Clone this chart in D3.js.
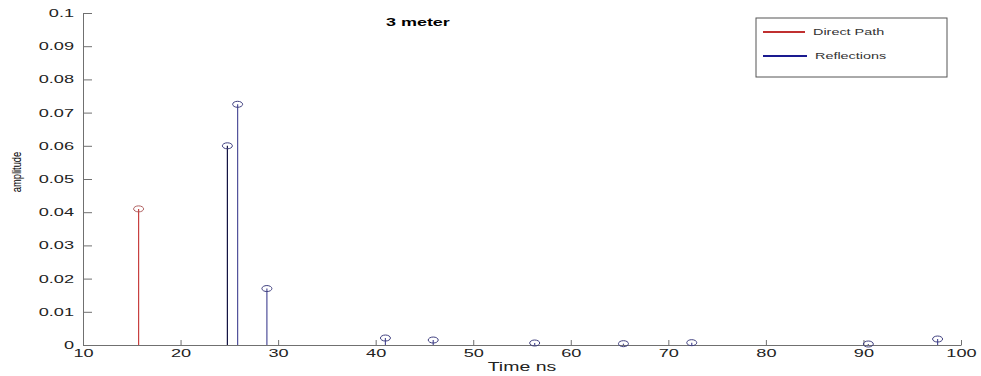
<!DOCTYPE html>
<html>
<head>
<meta charset="utf-8">
<script src="https://cdn.jsdelivr.net/npm/d3@7"></script>
<style>
  body { margin: 0; background: #fff; }
  text { font-family: "Liberation Sans", Arial, sans-serif; }
  .axis path, .axis line { stroke: #707070; }
  .axis text { font-size: 11px; fill: #222; }
</style>
</head>
<body>
<svg id="chart" width="981" height="376"></svg>
<script>
// direct path arrival
var directTimes = [15.7];
var directValues = [0.041];
// reflections arrivals
var reflTimes = [24.8, 25.85, 28.85, 41.0, 45.9, 56.3, 65.4, 72.4, 90.5, 97.6];
var reflValues = [0.060, 0.0725, 0.017, 0.0021, 0.0015, 0.0006, 0.0004, 0.0007, 0.0003, 0.0018];
var xTicks = [10, 20, 30, 40, 50, 60, 70, 80, 90, 100];
var yTicks = [0, 0.01, 0.02, 0.03, 0.04, 0.05, 0.06, 0.07, 0.08, 0.09, 0.1];
var legendNames = ['Direct Path', 'Reflections'];

var svg = d3.select('#chart');
var margin = {left: 83, top: 13, right: 20, bottom: 31};
var chartWidth = 961 - margin.left;
var chartHeight = 345 - margin.top;

// the exported figure is stretched sideways, so all text gets stretched too
function stretch(sel, k, origin) {
  sel.style('transform-box', 'fill-box')
    .style('transform-origin', origin)
    .style('transform', 'scaleX(' + k + ')');
}

var chartGroup = svg.append('g')
  .attr('transform', 'translate(' + margin.left + ',' + margin.top + ')');

var xScale = d3.scaleLinear().domain([10, 100]).range([0, chartWidth]);
var yScale = d3.scaleLinear().domain([0, 0.1]).range([chartHeight, 0]);

var xAxis = d3.axisBottom(xScale).tickValues(xTicks).tickSize(-5).tickSizeOuter(0)
  .tickFormat(d3.format('d'));
var yAxis = d3.axisLeft(yScale).tickValues(yTicks).tickSize(-9).tickSizeOuter(0)
  .tickFormat(function(d) { return d === 0 ? '0' : d3.format('.2~f')(d); });

var xAxisGroup = chartGroup.append('g')
  .attr('class', 'axis axis--x')
  .attr('transform', 'translate(0,' + chartHeight + ')')
  .call(xAxis);
xAxisGroup.selectAll('text').attr('dy', '0.32em').attr('y', 8);
stretch(xAxisGroup.selectAll('text'), 1.65, 'center');

var yAxisGroup = chartGroup.append('g')
  .attr('class', 'axis axis--y')
  .call(yAxis);
yAxisGroup.selectAll('text').attr('x', -9);
stretch(yAxisGroup.selectAll('text'), 1.65, 'right center');

var direct = directTimes.map(function(t, i) { return {t: t, v: directValues[i], c: '#c84040', m: '#b06060'}; });
var refl = reflTimes.map(function(t, i) {
  return {t: t, v: reflValues[i], c: i === 0 ? '#101040' : '#50509a', m: '#404080'};
});
var stems = direct.concat(refl);

chartGroup.selectAll('.stem').data(stems).enter().append('line')
  .attr('class', 'stem')
  .attr('x1', function(d) { return xScale(d.t); })
  .attr('x2', function(d) { return xScale(d.t); })
  .attr('y1', yScale(0))
  .attr('y2', function(d) { return yScale(d.v); })
  .attr('stroke', function(d) { return d.c; })
  .attr('stroke-width', 1.2);

chartGroup.selectAll('.mark').data(stems).enter().append('ellipse')
  .attr('class', 'mark')
  .attr('cx', function(d) { return xScale(d.t); })
  .attr('cy', function(d) { return yScale(d.v); })
  .attr('rx', 5)
  .attr('ry', 3)
  .attr('fill', 'none')
  .attr('stroke', function(d) { return d.m; })
  .attr('stroke-width', 1);

// title and labels
var title = svg.append('text')
  .attr('x', 418).attr('y', 26)
  .attr('text-anchor', 'middle')
  .style('font-size', '10px').style('font-weight', 'bold')
  .text('3 meter');
stretch(title, 1.8, 'center');

var xLabel = svg.append('text')
  .attr('x', 522).attr('y', 371)
  .attr('text-anchor', 'middle')
  .style('font-size', '13px').style('fill', '#222')
  .text('Time ns');
stretch(xLabel, 1.5, 'center');

svg.append('text')
  .attr('transform', 'translate(21,172) rotate(-90) scale(0.72,1.05)')
  .attr('text-anchor', 'middle')
  .style('font-size', '13px')
  .text('amplitude');

// legend
var legend = svg.append('g').attr('transform', 'translate(756,18)');
legend.append('rect')
  .attr('width', 191).attr('height', 59)
  .attr('fill', '#fff').attr('stroke', '#555').attr('stroke-width', 1);
var legendColors = ['#c03030', '#1a1a90'];
legendNames.forEach(function(name, i) {
  legend.append('line')
    .attr('x1', 7).attr('x2', 49 + i * 2)
    .attr('y1', 14 + i * 24).attr('y2', 14 + i * 24)
    .attr('stroke', legendColors[i]).attr('stroke-width', 2);
  var lt = legend.append('text')
    .attr('x', 57 + i * 2).attr('y', 17 + i * 24)
    .style('font-size', '9px').style('fill', '#333')
    .text(name);
  stretch(lt, 1.6, 'left center');
});
</script>
</body>
</html>
